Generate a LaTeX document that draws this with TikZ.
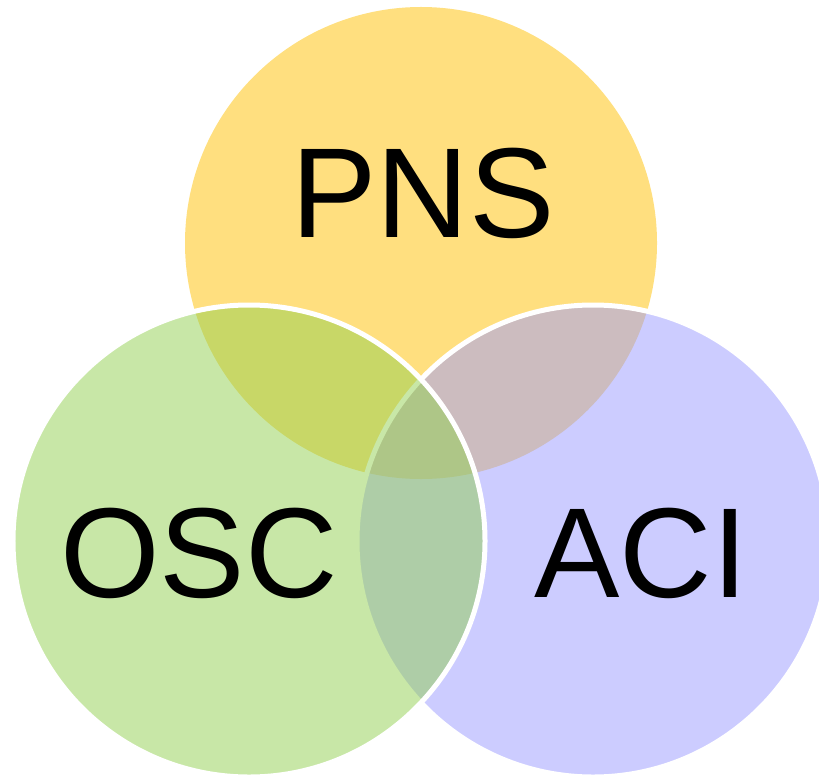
\documentclass[tikz,border=0pt]{standalone}
\usepackage{fontspec}
\setmainfont{Liberation Sans}
\definecolor{pnsc}{HTML}{FFC000}
\definecolor{oscc}{HTML}{92D050}
\definecolor{acic}{HTML}{9999FF}
\tikzset{
  setcircle/.style={circle, inner sep=0pt, outer sep=0pt, minimum size=472bp, fill opacity=0.5, draw opacity=1},
  setlabel/.style={inner sep=0pt, anchor=base, text=black, font=\fontsize{128bp}{128bp}\selectfont}
}
\begin{document}
\begin{tikzpicture}[x=1bp, y=-1bp]
  \useasboundingbox (0,0) rectangle (819,779);
  \clip (0,0) rectangle (819,779);
  \node[setcircle, fill=pnsc] (pns) at (421,243) {};
  \node[setcircle, fill=acic, draw=white, line width=5bp] (aci) at (593,541) {};
  \node[setcircle, fill=oscc, draw=white, line width=5bp] (osc) at (249,541) {};
  \node[setlabel] (pnst) at (423,237) {PNS};
  \node[setlabel] (osct) at (199,597) {OSC};
  \node[setlabel] (acit) at (641,597) {ACI};
\end{tikzpicture}
\end{document}
